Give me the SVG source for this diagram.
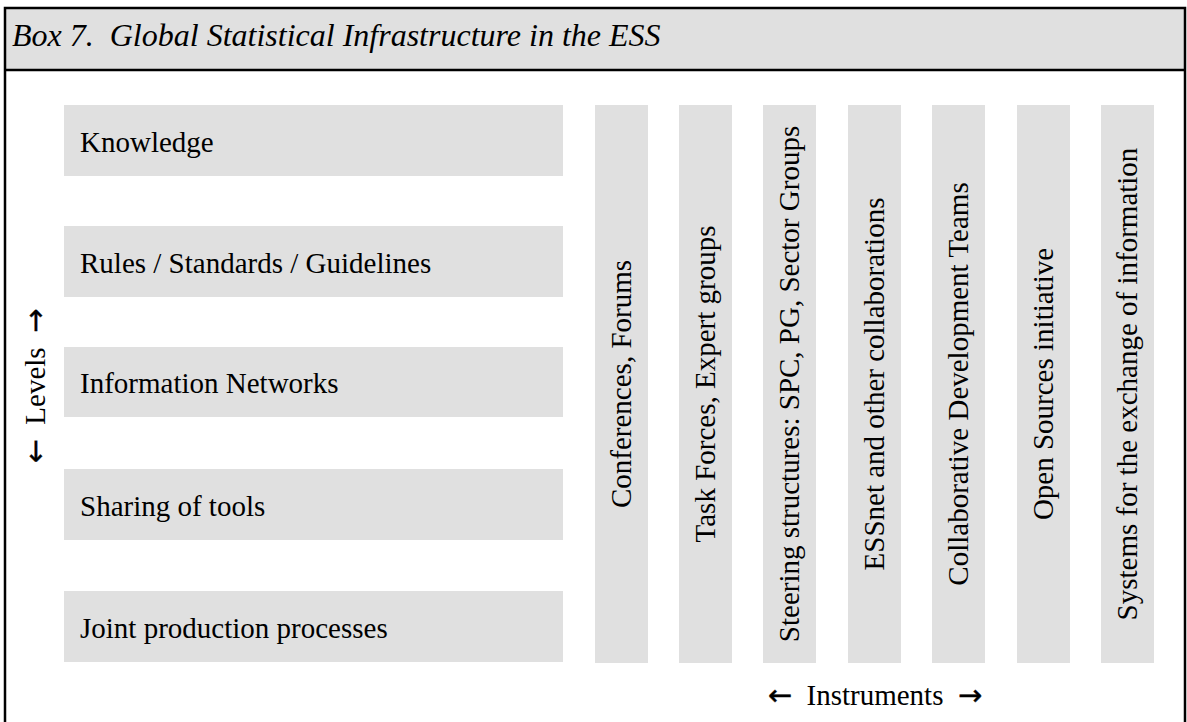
<svg xmlns="http://www.w3.org/2000/svg" width="1187" height="722" viewBox="0 0 1187 722">
<style>
.bg{fill:#e0e0e0}
.t{font-family:"Liberation Serif","Times New Roman",serif;font-size:29px;fill:#000}
.v{text-anchor:middle}
.ar{font-family:"DejaVu Sans",sans-serif;font-size:29px;stroke:#000;stroke-width:0.4}
</style>
<rect x="0" y="0" width="1187" height="722" fill="#fff"/>
<g id="frame">
<rect x="5" y="8" width="1180" height="62" class="bg"/>
<path d="M5,740 V8 H1185 V740 M5,70 H1185" fill="none" stroke="#000" stroke-width="2.5"/>
<text x="12" y="46" class="t" style="font-style:italic;font-size:32px" xml:space="preserve">Box 7.  Global Statistical Infrastructure in the ESS</text>
</g>
<g id="level-knowledge"><rect x="64" y="105" width="499" height="71" class="bg"/><text x="80" y="152" class="t">Knowledge</text></g>
<g id="level-rules"><rect x="64" y="226" width="499" height="71" class="bg"/><text x="80" y="273" class="t">Rules / Standards / Guidelines</text></g>
<g id="level-info"><rect x="64" y="347" width="499" height="70" class="bg"/><text x="80" y="393" class="t">Information Networks</text></g>
<g id="level-sharing"><rect x="64" y="469" width="499" height="71" class="bg"/><text x="80" y="516" class="t">Sharing of tools</text></g>
<g id="level-joint"><rect x="64" y="591" width="499" height="71" class="bg"/><text x="80" y="638" class="t">Joint production processes</text></g>
<g id="inst-conf"><rect x="595" y="105" width="53" height="558" class="bg"/><text class="t v" transform="translate(631,384) rotate(-90)">Conferences, Forums</text></g>
<g id="inst-task"><rect x="679" y="105" width="53" height="558" class="bg"/><text class="t v" transform="translate(715,384) rotate(-90)">Task Forces, Expert groups</text></g>
<g id="inst-steer"><rect x="763" y="105" width="53" height="558" class="bg"/><text class="t v" transform="translate(799,384) rotate(-90)">Steering structures: SPC, PG, Sector Groups</text></g>
<g id="inst-essnet"><rect x="848" y="105" width="53" height="558" class="bg"/><text class="t v" transform="translate(884,384) rotate(-90)">ESSnet and other collaborations</text></g>
<g id="inst-collab"><rect x="932" y="105" width="53" height="558" class="bg"/><text class="t v" transform="translate(968,384) rotate(-90)">Collaborative Development Teams</text></g>
<g id="inst-open"><rect x="1017" y="105" width="53" height="558" class="bg"/><text class="t v" transform="translate(1053,384) rotate(-90)">Open Sources initiative</text></g>
<g id="inst-sys"><rect x="1101" y="105" width="53" height="558" class="bg"/><text class="t v" transform="translate(1137,384) rotate(-90)">Systems for the exchange of information</text></g>
<g id="axis-levels"><text class="t v" transform="translate(45,386) rotate(-90)" xml:space="preserve"><tspan class="ar">←</tspan>  Levels  <tspan class="ar">→</tspan></text></g>
<g id="axis-instruments"><text class="t v" x="875" y="705" xml:space="preserve"><tspan class="ar">←</tspan>  Instruments  <tspan class="ar">→</tspan></text></g>
<g id="connectors"></g>
</svg>
